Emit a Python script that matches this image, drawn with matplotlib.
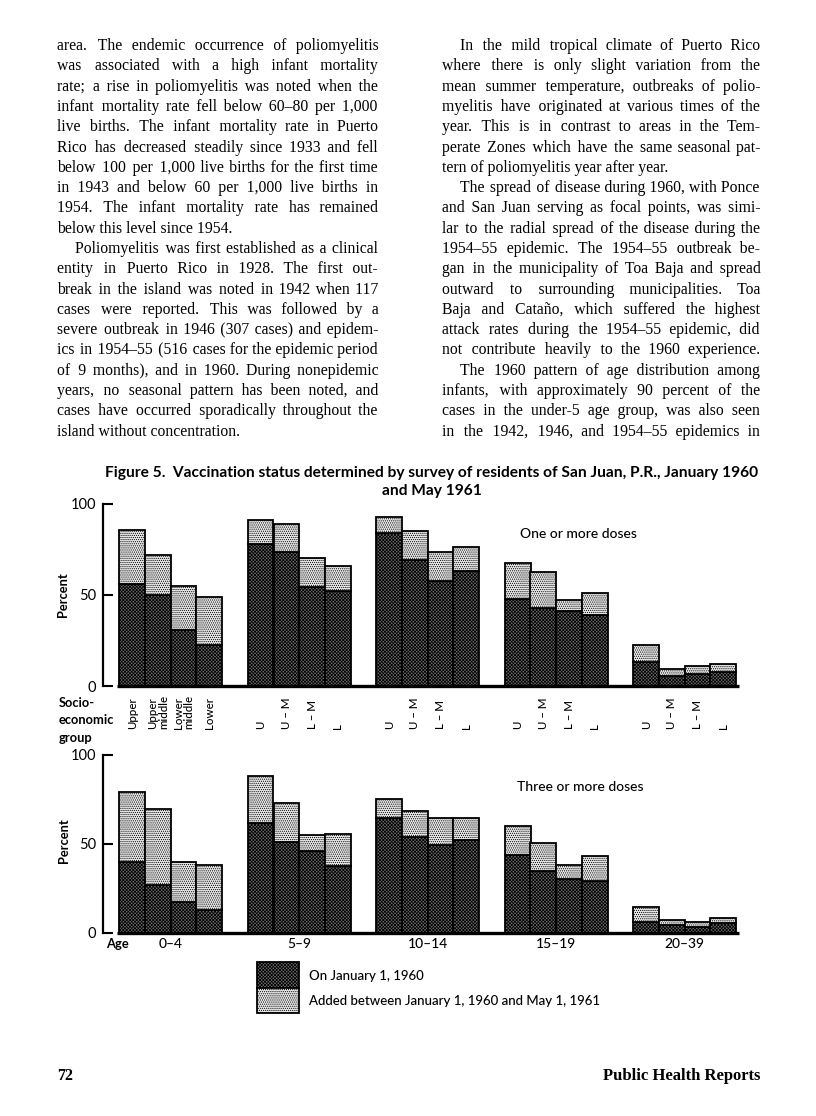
import matplotlib
matplotlib.use("Agg")
import matplotlib.pyplot as plt
from matplotlib import font_manager
from matplotlib.patches import Rectangle
from matplotlib.transforms import blended_transform_factory

W, H, DPI = 816, 1116, 100

# ---------------- data ----------------
age_groups = ["0–4", "5–9", "10–14", "15–19", "20–39"]
ses_first = ["Upper", "Upper\nmiddle", "Lower\nmiddle", "Lower"]
ses_short = ["U", "U – M", "L – M", "L"]

# One or more doses (percent)
one_jan1960 = [[56, 50, 30.5, 22.7], [78, 73.6, 54.4, 52.2], [83.6, 69.3, 57.3, 63.1],
               [47.6, 42.7, 41.1, 39.1], [13.1, 5.5, 6.7, 7.6]]
one_may1961 = [[85.5, 72, 55, 48.5], [91, 89, 70, 65.6], [92.7, 84.7, 73.6, 76],
               [67.3, 62.4, 47, 51.1], [22.7, 9.4, 11.1, 12.2]]
# Three or more doses (percent)
three_jan1960 = [[39.8, 26.6, 17.1, 12.8], [61.5, 50.9, 45.7, 37.2], [64.1, 53.5, 49, 52],
                 [43.7, 34.8, 30.3, 29], [5.8, 4.3, 3.3, 5.2]]
three_may1961 = [[79, 69.3, 39.4, 37.7], [87.7, 72.9, 55, 55.2], [75.1, 68.2, 64.3, 64.1],
                 [60, 50.4, 37.7, 42.9], [14.3, 7.2, 6.1, 8.2]]

legend_labels = ["On January 1, 1960", "Added between January 1, 1960 and May 1, 1961"]
panel_titles = ["One or more doses", "Three or more doses"]
y_ticks = [0, 50, 100]

left_col = [
    ("area.  The endemic occurrence of poliomyelitis", 0, True),
    ("was associated with a high infant mortality", 0, True),
    ("rate; a rise in poliomyelitis was noted when the", 0, True),
    ("infant mortality rate fell below 60–80 per 1,000", 0, True),
    ("live births.  The infant mortality rate in Puerto", 0, True),
    ("Rico has decreased steadily since 1933 and fell", 0, True),
    ("below 100 per 1,000 live births for the first time", 0, True),
    ("in 1943 and below 60 per 1,000 live births in", 0, True),
    ("1954.  The infant mortality rate has remained", 0, True),
    ("below this level since 1954.", 0, False),
    ("Poliomyelitis was first established as a clinical", 1, True),
    ("entity in Puerto Rico in 1928.  The first out-", 0, True),
    ("break in the island was noted in 1942 when 117", 0, True),
    ("cases were reported.  This was followed by a", 0, True),
    ("severe outbreak in 1946 (307 cases) and epidem-", 0, True),
    ("ics in 1954–55 (516 cases for the epidemic period", 0, True),
    ("of 9 months), and in 1960.  During nonepidemic", 0, True),
    ("years, no seasonal pattern has been noted, and", 0, True),
    ("cases have occurred sporadically throughout the", 0, True),
    ("island without concentration.", 0, False),
]
right_col = [
    ("In the mild tropical climate of Puerto Rico", 1, True),
    ("where there is only slight variation from the", 0, True),
    ("mean summer temperature, outbreaks of polio-", 0, True),
    ("myelitis have originated at various times of the", 0, True),
    ("year.  This is in contrast to areas in the Tem-", 0, True),
    ("perate Zones which have the same seasonal pat-", 0, True),
    ("tern of poliomyelitis year after year.", 0, False),
    ("The spread of disease during 1960, with Ponce", 1, True),
    ("and San Juan serving as focal points, was simi-", 0, True),
    ("lar to the radial spread of the disease during the", 0, True),
    ("1954–55 epidemic.  The 1954–55 outbreak be-", 0, True),
    ("gan in the municipality of Toa Baja and spread", 0, True),
    ("outward to surrounding municipalities.  Toa", 0, True),
    ("Baja and Cataño, which suffered the highest", 0, True),
    ("attack rates during the 1954–55 epidemic, did", 0, True),
    ("not contribute heavily to the 1960 experience.", 0, True),
    ("The 1960 pattern of age distribution among", 1, True),
    ("infants, with approximately 90 percent of the", 0, True),
    ("cases in the under-5 age group, was also seen", 0, True),
    ("in the 1942, 1946, and 1954–55 epidemics in", 0, True),
]

title_lines = ["Figure 5.  Vaccination status determined by survey of residents of San Juan, P.R., January 1960",
               "and May 1961"]

# ---------------- figure ----------------
plt.rcParams["hatch.linewidth"] = 0.55
fig = plt.figure(figsize=(W / DPI, H / DPI), dpi=DPI)
fig.patch.set_facecolor("white")
renderer = fig.canvas.get_renderer()
SANS = "Lato"
SERIF = "Liberation Serif"


def fy(y):
    return 1 - y / H


def measure(s, **kw):
    t = fig.text(0, 0, s, **kw)
    w = t.get_window_extent(renderer).width
    t.remove()
    return w


# pick the finest space glyph available in the serif font for justification
_ft = font_manager.get_font(font_manager.findfont(font_manager.FontProperties(family=SERIF)))
FILL = " "
for cp in (0x200A, 0x2009, 0x2006, 0x2005):
    if _ft.get_char_index(cp) != 0:
        FILL = chr(cp)
        break


def fit_size(lines, colw, base=10):
    longest = max(measure(" ".join(l[0].split()), family=SERIF, fontsize=base) + (18 if l[1] else 0)
                  for l in lines)
    return base * colw * 0.985 / longest


def draw_column(lines, x0, x1, y0, dy, fs):
    unit = measure("a" + FILL + "a", family=SERIF, fontsize=fs) - measure("aa", family=SERIF, fontsize=fs)
    for i, (s, indent, just) in enumerate(lines):
        y = round(y0 + i * dy)
        xs = x0 + (18 if indent else 0)
        words = s.split()
        if just and len(words) > 1 and unit > 0:
            natural = measure(" ".join(words), family=SERIF, fontsize=fs)
            n = max(0, round((x1 - xs - natural) / unit))
            g = len(words) - 1
            out = words[0]
            for k in range(g):
                extra = n // g + (1 if k < n % g else 0)
                out += " " + FILL * extra + words[k + 1]
            fig.text(xs / W, fy(y), out, family=SERIF, fontsize=fs, va="baseline", ha="left")
        else:
            fig.text(xs / W, fy(y), " ".join(words), family=SERIF, fontsize=fs,
                     va="baseline", ha="left")


fs_body = round(min(fit_size(left_col, 321), fit_size(right_col, 318)), 1)
draw_column(left_col, 57, 378, 50, 20.3, fs_body)
draw_column(right_col, 442, 760, 50, 20.3, fs_body)

# footer
fig.text(57 / W, fy(1080), "72", family=SERIF, fontsize=11.5, fontweight="bold", va="baseline")
fig.text(760 / W, fy(1080), "Public Health Reports", family=SERIF, fontsize=12,
         fontweight="bold", va="baseline", ha="right")

# ---- title ----
tw = measure(title_lines[0], family=SANS, fontsize=10, fontweight="bold")
fs_title = round(10 * 653 / tw, 2)
fig.text(105 / W, fy(473), title_lines[0], family=SANS, fontsize=fs_title, fontweight="bold", va="center")
fig.text(432 / W, fy(491), title_lines[1], family=SANS, fontsize=fs_title, fontweight="bold",
         va="center", ha="center")

# ---- chart panels ----
BAR_LEFT0 = 119.3
BAR_W = 25.7
AX_L, AX_R = 103.3, 760
xlim = ((AX_L - BAR_LEFT0) / BAR_W, (AX_R - BAR_LEFT0) / BAR_W)

dark_style = dict(facecolor="#6a6a6a", edgecolor="black", hatch="xxxxxxxxxx", linewidth=1.3)
light_style = dict(facecolor="#e9e9e9", edgecolor="black", hatch="........", linewidth=1.3)


def make_panel(y0_px, y100_px, jan, may, title, title_xy):
    ax = fig.add_axes([AX_L / W, (H - y0_px) / H, (AX_R - AX_L) / W, (y0_px - y100_px) / H])
    ax.set_xlim(*xlim)
    ax.set_ylim(0, 100)
    ax.patch.set_alpha(0)
    for g in range(len(age_groups)):
        xs = [5 * g + j + 0.5 for j in range(4)]
        base = jan[g]
        added = [m - b for m, b in zip(may[g], base)]
        ax.bar(xs, base, width=1.0, **dark_style)
        ax.bar(xs, added, bottom=base, width=1.0, **light_style)
    ax.hlines(0, -0.1, 5 * (len(age_groups) - 1) + 4.1, color="black", lw=2.4, clip_on=False, zorder=5)
    for sp in ["top", "right", "bottom"]:
        ax.spines[sp].set_visible(False)
    ax.spines["left"].set_linewidth(1.6)
    ax.set_xticks([])
    ax.set_yticks(y_ticks)
    ax.set_yticklabels([str(t) for t in y_ticks], family=SANS, fontsize=10.5)
    ax.tick_params(axis="y", direction="in", length=7, width=1.5, pad=5)
    fig.text(title_xy[0] / W, fy(title_xy[1]), title, family=SANS, fontsize=10, va="center",
             fontweight="medium")
    return ax


ax1 = make_panel(686, 503.5, one_jan1960, one_may1961, panel_titles[0], (520, 534))
ax2 = make_panel(932.5, 754.5, three_jan1960, three_may1961, panel_titles[1], (517, 787))

fig.text(63.5 / W, fy(595), "Percent", family=SANS, fontsize=9.3, fontweight="bold",
         rotation=90, va="center", ha="center")
fig.text(64 / W, fy(841), "Percent", family=SANS, fontsize=9.3, fontweight="bold",
         rotation=90, va="center", ha="center")

for txt, yy in zip(["Socio-", "economic", "group"], [703, 720.5, 738]):
    fig.text(59 / W, fy(yy), txt, family=SANS, fontsize=9.3, fontweight="bold", va="center")

# rotated socio-economic labels
tr1 = blended_transform_factory(ax1.transData, fig.transFigure)
for g in range(len(age_groups)):
    labels = ses_first if g == 0 else ses_short
    for j, lab in enumerate(labels):
        ax1.text(5 * g + j + 0.5, fy(729), lab, transform=tr1, rotation=90, ha="center",
                 va="bottom", family=SANS, fontsize=8.3, fontweight="medium",
                 multialignment="left", linespacing=1.0)

# age labels
tr2 = blended_transform_factory(ax2.transData, fig.transFigure)
for g, lab in enumerate(age_groups):
    ax2.text(5 * g + 2, fy(944), lab, transform=tr2, ha="center", va="center",
             family=SANS, fontsize=10, fontweight="medium")
fig.text(117 / W, fy(944), "Age", family=SANS, fontsize=9.3, fontweight="bold",
         va="center", ha="center")

# legend
lx, lw_ = 257, 42
fig.add_artist(Rectangle((lx / W, fy(987.7)), lw_ / W, 26 / H, transform=fig.transFigure,
                         **dark_style))
fig.add_artist(Rectangle((lx / W, fy(1012.7)), lw_ / W, 25 / H, transform=fig.transFigure,
                         **light_style))
fig.text(309 / W, fy(976), legend_labels[0], family=SANS, fontsize=9.5, va="center",
         fontweight="medium")
fig.text(309 / W, fy(1000.7), legend_labels[1], family=SANS, fontsize=9.5, va="center",
         fontweight="medium")

fig.savefig("out.png", dpi=DPI, facecolor="white")
